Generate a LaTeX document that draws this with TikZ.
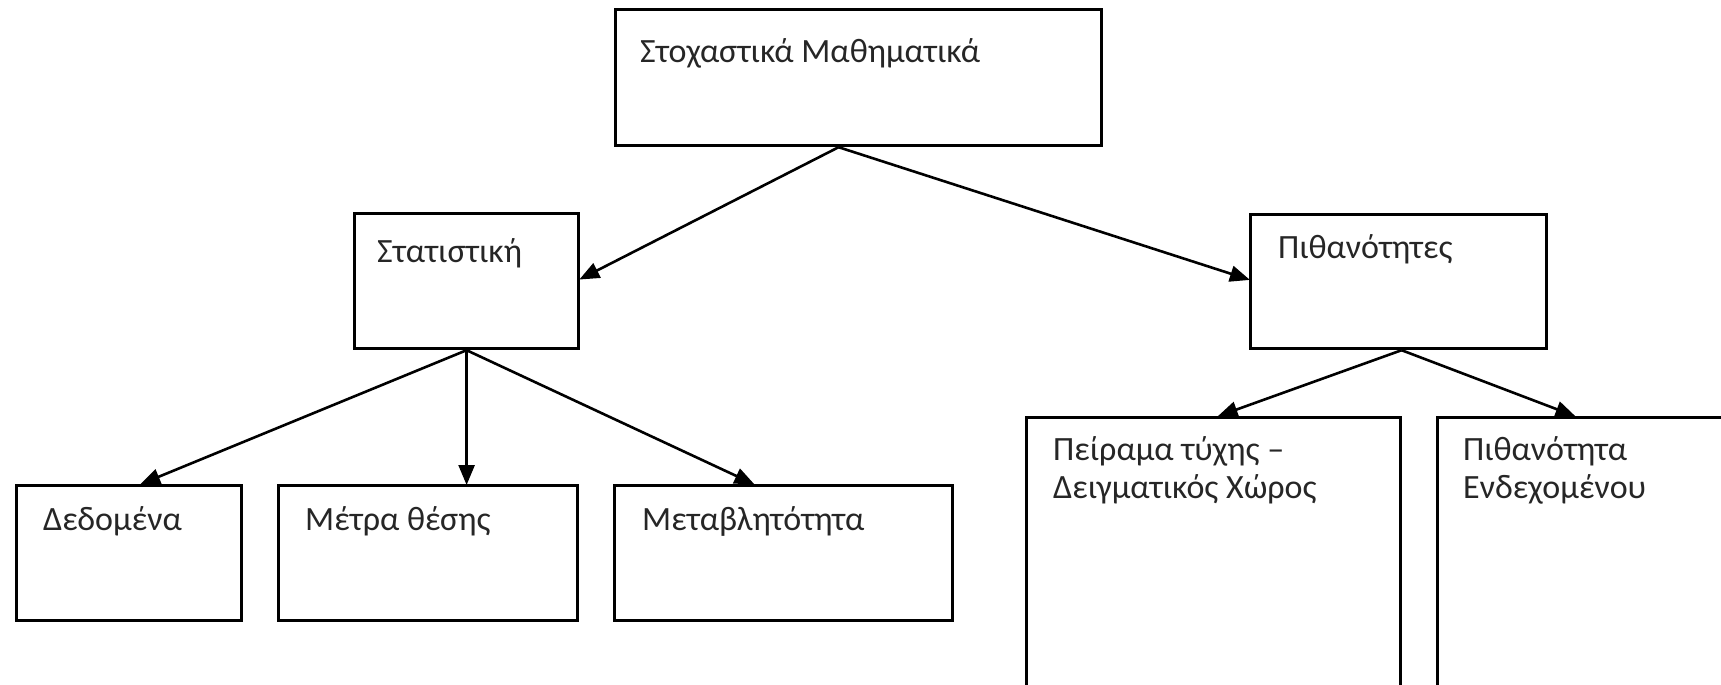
\documentclass[tikz,border=0pt]{standalone}
\usepackage{fontspec}
\setmainfont{Carlito}
\usetikzlibrary{arrows.meta,calc}
\begin{document}
\begin{tikzpicture}[x=1pt,y=1pt,
  boxnode/.style={draw=black,line width=3.2pt,rectangle,inner sep=0pt,anchor=north west},
  lbl/.style={anchor=base west,inner sep=0pt,font=\fontsize{34}{38}\selectfont,text=black!85},
  arr/.style={draw=black,line width=2.6pt,-{Triangle[length=20pt,width=16pt]},shorten >=-1pt}]
\clip (0,0) rectangle (1721,-685);
\fill[white] (0,0) rectangle (1721,-685);
% boxes: minimum width/height from measured pixel extents
\node[boxnode,minimum width=486pt,minimum height=136pt] (top) at (614,-8) {};
\node[boxnode,minimum width=224pt,minimum height=135pt] (stat) at (353,-212) {};
\node[boxnode,minimum width=296pt,minimum height=134pt] (pith) at (1249,-213) {};
\node[boxnode,minimum width=225pt,minimum height=135pt] (ded) at (15,-484) {};
\node[boxnode,minimum width=299pt,minimum height=135pt] (metra) at (277,-484) {};
\node[boxnode,minimum width=338pt,minimum height=135pt] (metav) at (613,-484) {};
\node[boxnode,minimum width=374pt,minimum height=300pt] (peir) at (1025,-416) {};
\node[boxnode,minimum width=300pt,minimum height=300pt] (endex) at (1436,-416) {};
% labels
\node[lbl] (ttop) at (640,-63) {Στοχαστικά Μαθηματικά};
\node[lbl] (tstat) at (377,-262) {Στατιστική};
\node[lbl] (tpith) at (1278,-258) {Πιθανότητες};
\node[lbl] (tded) at (43,-530) {Δεδομένα};
\node[lbl] (tmetra) at (305,-530) {Μέτρα θέσης};
\node[lbl] (tmetav) at (642,-530) {Μεταβλητότητα};
\node[lbl] (tpeir1) at (1053,-460) {Πείραμα τύχης –};
\node[lbl] (tpeir2) at (1053,-498) {Δειγματικός Χώρος};
\node[lbl] (tend1) at (1463,-460) {Πιθανότητα};
\node[lbl] (tend2) at (1463,-498) {Ενδεχομένου};
% connectors
\coordinate (topj) at ([xshift=-20pt]top.south);
\draw[arr] (topj) -- ([yshift=2pt]stat.east);
\draw[arr] (topj) -- ([yshift=2pt]pith.west);
\draw[arr] (stat.south) -- ([xshift=12pt]ded.north);
\draw[arr] (stat.south) -- (stat.south |- metra.north);
\draw[arr] (stat.south) -- ([xshift=-30pt]metav.north);
\coordinate (pithj) at ([xshift=3pt]pith.south);
\draw[arr] (pithj) -- ([xshift=5pt]peir.north);
\draw[arr] (pithj) -- ([xshift=-13pt]endex.north);
\end{tikzpicture}
\end{document}
